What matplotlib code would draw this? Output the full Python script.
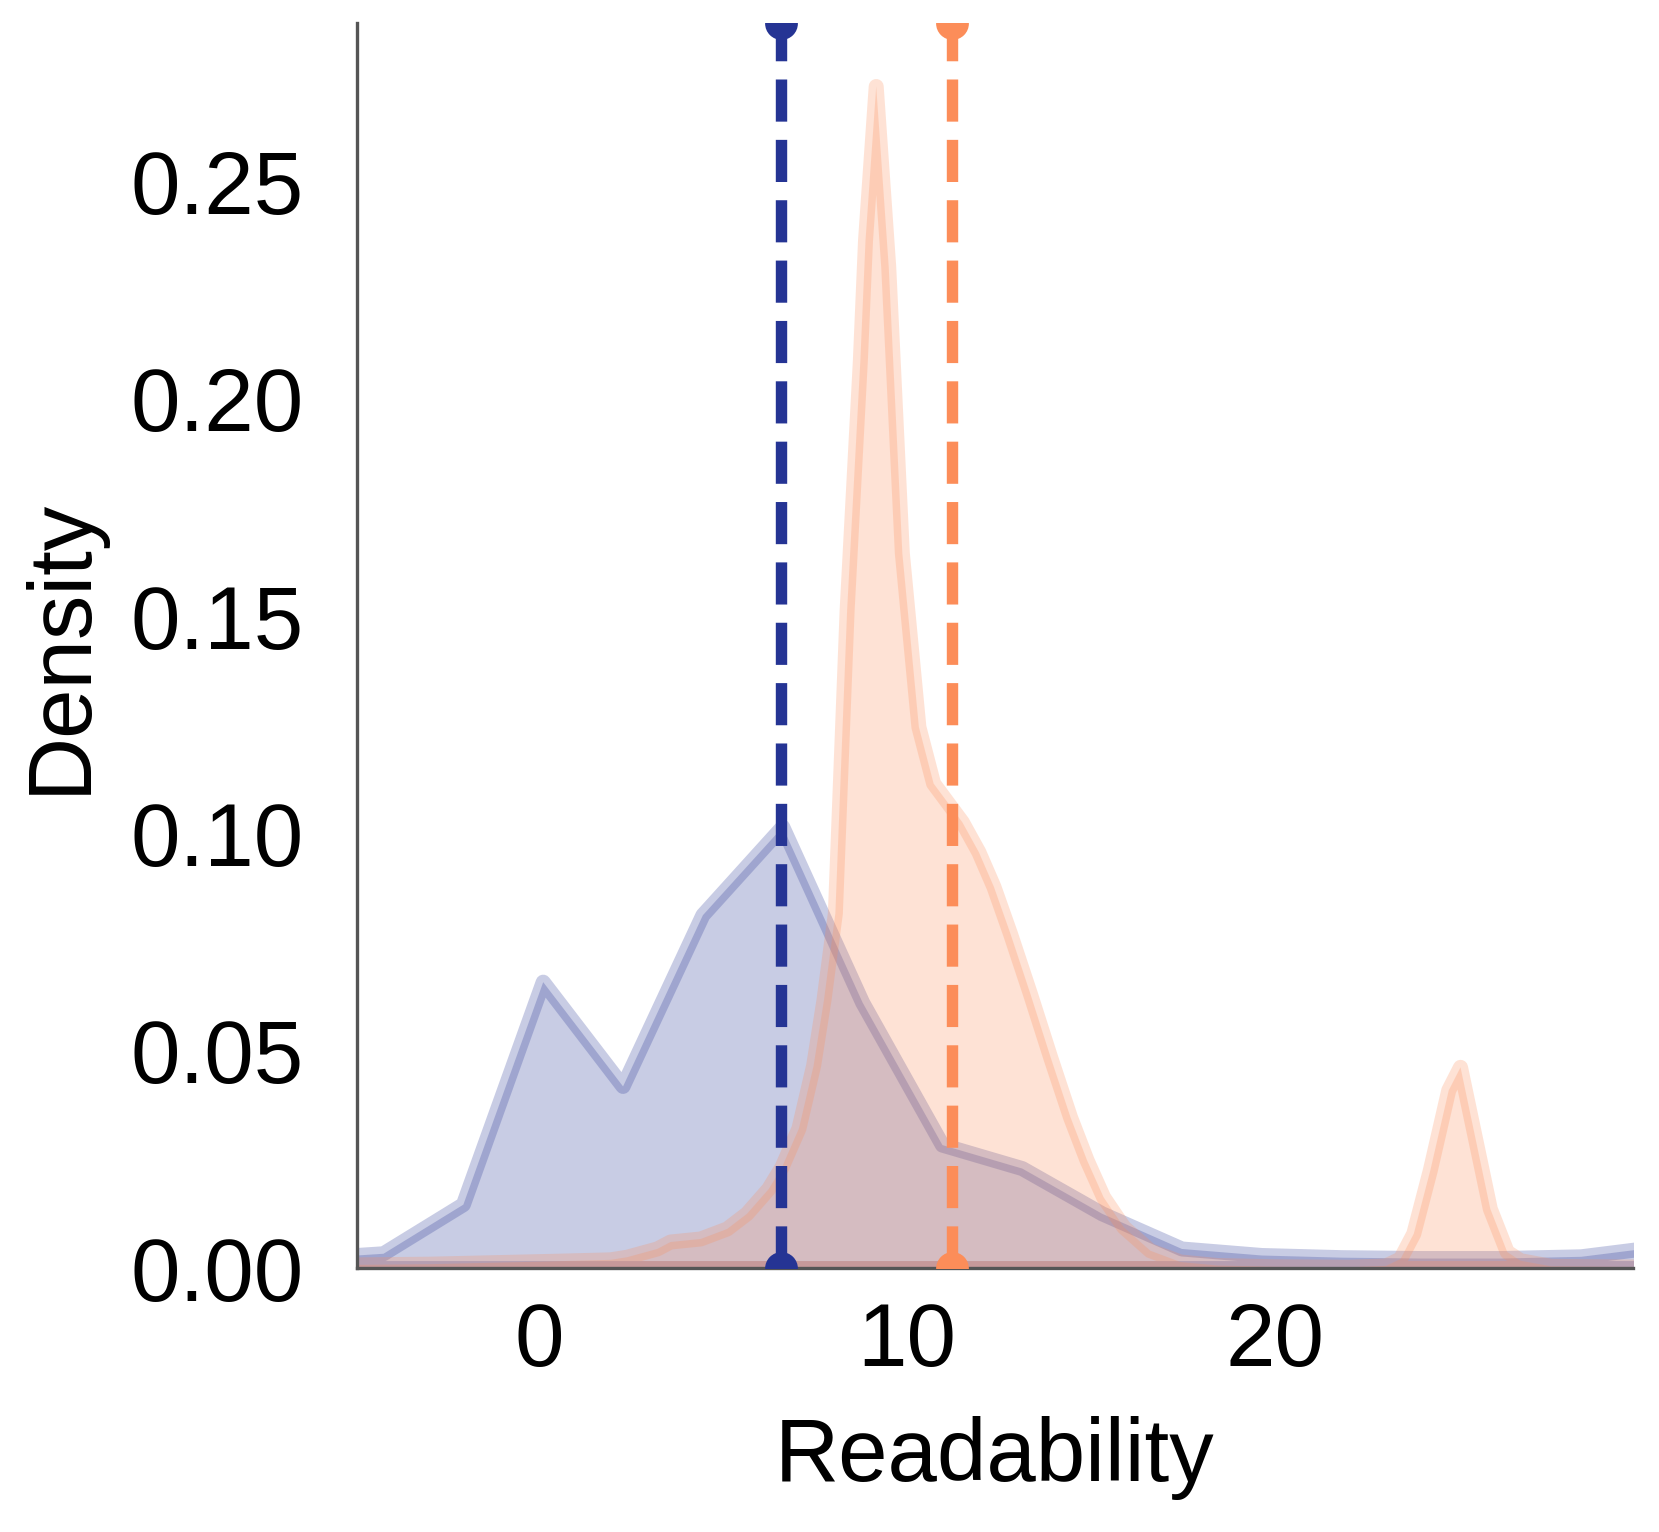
import matplotlib
matplotlib.use("Agg")
import matplotlib.pyplot as plt

plt.rcParams['font.family'] = ['Liberation Sans', 'DejaVu Sans']

# ---- data ----
blue_x = [-6.41, -4.24, -2.07, 0.10, 2.27, 4.44, 6.61, 8.78, 10.95, 13.12,
          15.29, 17.46, 19.63, 21.80, 23.97, 26.14, 28.31, 30.48]
blue_y = [0.0022, 0.0034, 0.0147, 0.0659, 0.0419, 0.0813, 0.1016, 0.0612,
          0.0284, 0.0230, 0.0126, 0.0045, 0.0030, 0.0025, 0.0023, 0.0023,
          0.0027, 0.0050]

orange_x = [-5.5, -3.0, 0.57, 1.93, 2.38, 3.20, 3.56, 4.38, 5.10, 5.64, 6.23,
            6.59, 7.05, 7.45, 7.73, 8.04, 8.36, 8.72, 8.86, 9.15, 9.49, 9.86,
            10.31, 10.71, 11.49, 11.94, 12.35, 12.80, 13.34, 13.89, 14.43,
            14.88, 15.33, 15.88, 16.60, 17.42, 18.42, 20.0, 22.0, 23.0, 23.40,
            23.76, 24.21, 24.71, 25.03, 25.39, 25.84, 26.30, 26.66, 27.5, 30.5]
orange_y = [0.0008, 0.0010, 0.0017, 0.0020, 0.0026, 0.0045, 0.0061, 0.0068,
            0.0091, 0.0126, 0.0183, 0.0233, 0.0322, 0.0467, 0.0617, 0.0817,
            0.1515, 0.2090, 0.2366, 0.2720, 0.2305, 0.1646, 0.1246, 0.1116,
            0.1027, 0.0958, 0.0878, 0.0770, 0.0632, 0.0486, 0.0348, 0.0249,
            0.0164, 0.0095, 0.0041, 0.0015, 0.0007, 0.0004, 0.0003, 0.0006,
            0.0022, 0.0080, 0.0226, 0.0410, 0.0463, 0.0318, 0.0137, 0.0038,
            0.0018, 0.0005, 0.0003]

blue_mean = 6.58
orange_mean = 11.22

x_ticks = [0, 10, 20]
y_ticks = [0.00, 0.05, 0.10, 0.15, 0.20, 0.25]
x_label = "Readability"
y_label = "Density"

BLUE = "#253494"
ORANGE = "#fc8d59"

fig = plt.figure(figsize=(8.295, 7.66), dpi=200)
ax = fig.add_axes([0.2149, 0.1723, 0.9843 - 0.2149, 0.985 - 0.1723])

ax.fill_between(blue_x, blue_y, color=BLUE, alpha=0.25, linewidth=5.4)
ax.fill_between(orange_x, orange_y, color=ORANGE, alpha=0.25, linewidth=5.4)

ax.axvline(blue_mean, color=BLUE, ls='--', lw=4.1, marker='o', ms=10.8, zorder=5)
ax.axvline(orange_mean, color=ORANGE, ls='--', lw=4.1, marker='o', ms=10.8, zorder=5)

ax.set_xlim(-4.96, 29.73)
ax.set_ylim(0, 0.2865)
ax.set_xticks(x_ticks)
ax.set_yticks(y_ticks)
ax.set_yticklabels([f"{v:.2f}" for v in y_ticks])

ax.tick_params(axis='both', length=0, labelsize=32)
ax.tick_params(axis='y', pad=19)
ax.tick_params(axis='x', pad=12)

ax.set_xlabel(x_label, fontsize=32, labelpad=11)
ax.set_ylabel(y_label, fontsize=32, labelpad=9.5)

for s in ['top', 'right']:
    ax.spines[s].set_visible(False)
for s in ['left', 'bottom']:
    ax.spines[s].set_color('#555555')
    ax.spines[s].set_linewidth(1.2)

fig.savefig("out.png", dpi=200)
